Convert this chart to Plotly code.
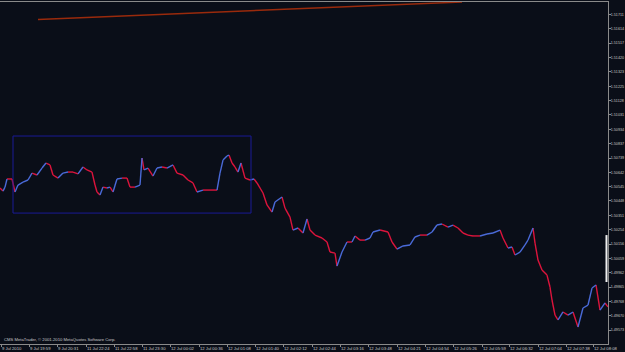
import plotly.graph_objects as go

# ---- data (bar index ~ time position, close price) ----
bars = [0, 3, 5, 7, 12, 15, 18, 23, 28, 32, 37, 42, 46, 50, 53, 58, 63, 68, 73, 78,
        83, 87, 92, 95, 97, 100, 103, 107, 110, 113, 117, 122, 127, 130, 135, 140, 142, 144,
        148, 153, 157, 162, 167, 173, 177, 183, 188, 193, 197, 203, 210, 217, 220, 223,
        227, 229, 232, 235, 238, 241, 245, 250, 254, 257, 263, 267, 272, 275, 282, 285,
        290, 293, 298, 303, 307, 310, 315, 322, 327, 330, 335, 337, 342, 347, 352, 355,
        360, 365, 370, 373, 380, 388, 392, 397, 403, 410, 415, 420, 427, 432, 437, 442,
        448, 453, 458, 463, 468, 473, 480, 487, 493, 500, 503, 508, 512, 515, 520, 525,
        528, 533, 535, 538, 542, 547, 550, 552, 555, 558, 563, 568, 573, 578, 583, 588,
        592, 596, 600, 605, 608]
prices = [1.50536, 1.50515, 1.50542, 1.50597, 1.50597, 1.50509, 1.50556, 1.50576, 1.50590, 1.50637,
          1.50624, 1.50671, 1.50705, 1.50692, 1.50624, 1.50603, 1.50637, 1.50644, 1.50644, 1.50631,
          1.50678, 1.50658, 1.50644, 1.50556, 1.50509, 1.50488, 1.50542, 1.50536, 1.50542, 1.50509,
          1.50597, 1.50603, 1.50603, 1.50542, 1.50542, 1.50556, 1.50739, 1.50658,
          1.50671, 1.50617, 1.50671, 1.50678, 1.50671, 1.50692, 1.50637, 1.50624, 1.50590, 1.50570,
          1.50509, 1.50522, 1.50522, 1.50522, 1.50637, 1.50725,
          1.50753, 1.50759, 1.50705, 1.50678, 1.50644, 1.50705, 1.50603, 1.50590, 1.50597, 1.50570,
          1.50502, 1.50421, 1.50373, 1.50441, 1.50475, 1.50400,
          1.50339, 1.50251, 1.50265, 1.50231, 1.50326, 1.50251, 1.50217, 1.50197, 1.50170, 1.50102,
          1.50095, 1.50007, 1.50102, 1.50170, 1.50170, 1.50211,
          1.50183, 1.50183, 1.50197, 1.50238, 1.50251, 1.50238, 1.50170, 1.50122, 1.50143, 1.50150,
          1.50204, 1.50217, 1.50217, 1.50238, 1.50285, 1.50292,
          1.50271, 1.50285, 1.50265, 1.50231, 1.50217, 1.50211, 1.50211, 1.50224, 1.50231, 1.50251,
          1.50197, 1.50129, 1.50136, 1.50082, 1.50102, 1.50150,
          1.50183, 1.50265, 1.50163, 1.50048, 1.49980, 1.49946, 1.49865, 1.49777, 1.49675, 1.49642,
          1.49696, 1.49675, 1.49696, 1.49594, 1.49723, 1.49743,
          1.49858, 1.49879, 1.49709, 1.49757, 1.49730]

# price scale labels
price_ticks = ["1.51711", "1.51614", "1.51517", "1.51420", "1.51323", "1.51225", "1.51128",
               "1.51031", "1.50934", "1.50837", "1.50739", "1.50642", "1.50545", "1.50448",
               "1.50351", "1.50254", "1.50156", "1.50059", "1.49962", "1.49865", "1.49768",
               "1.49670", "1.49573", "1.49476"]
# time scale labels and their bar positions
time_labels = ["9 Jul 2010", "9 Jul 19:59", "9 Jul 20:31", "11 Jul 22:24", "11 Jul 22:58",
               "11 Jul 23:30", "12 Jul 00:02", "12 Jul 00:36", "12 Jul 01:08", "12 Jul 01:40",
               "12 Jul 02:12", "12 Jul 02:44", "12 Jul 03:16", "12 Jul 03:48", "12 Jul 04:21",
               "12 Jul 04:54", "12 Jul 05:26", "12 Jul 05:59", "12 Jul 06:32", "12 Jul 07:04",
               "12 Jul 07:38", "12 Jul 08:08"]
time_bars = [1, 29, 57, 86, 114, 142, 170, 199, 227, 255, 283, 312, 340, 368, 397, 425,
             453, 482, 509, 538, 566, 593]

# objects drawn on chart
trend_bars = [38, 462]
trend_prices = [1.51677, 1.51796]
rect_bars = [13, 251]
rect_prices = [1.50366, 1.50888]
marker_bars = [605.5, 607.5]
marker_prices = [1.49899, 1.50217]

BG = "#0a0e18"
RED = "#dc143c"
BLUE = "#4a6ad8"
GRID = "#8a8a8a"
TXT = "#c8c8c8"
FONT = "Liberation Sans"

up_x, up_y, dn_x, dn_y = [], [], [], []
for i in range(1, len(bars)):
    seg_x = [bars[i - 1], bars[i], None]
    seg_y = [prices[i - 1], prices[i], None]
    if prices[i] > prices[i - 1]:
        up_x += seg_x
        up_y += seg_y
    else:
        dn_x += seg_x
        dn_y += seg_y

fig = go.Figure()
fig.add_trace(go.Scatter(x=dn_x, y=dn_y, mode="lines", line=dict(color=RED, width=1.4),
                         hoverinfo="skip", showlegend=False, connectgaps=False))
fig.add_trace(go.Scatter(x=up_x, y=up_y, mode="lines", line=dict(color=BLUE, width=1.4),
                         hoverinfo="skip", showlegend=False, connectgaps=False))
fig.add_trace(go.Scatter(x=trend_bars, y=trend_prices, mode="lines",
                         line=dict(color="#9a2a0c", width=1.5), hoverinfo="skip", showlegend=False))

fig.add_shape(type="rect", x0=rect_bars[0], x1=rect_bars[1], y0=rect_prices[0], y1=rect_prices[1],
              xref="x", yref="y", line=dict(color="#1a1a96", width=1), fillcolor="rgba(0,0,0,0)")
fig.add_shape(type="rect", x0=marker_bars[0], x1=marker_bars[1], y0=marker_prices[0],
              y1=marker_prices[1], xref="x", yref="y", line=dict(width=0), fillcolor="#f0f0f0")

fig.add_annotation(text="CMS MetaTrader, © 2001-2010 MetaQuotes Software Corp.",
                   xref="paper", yref="paper", x=0.003, y=0.0, xanchor="left", yanchor="bottom",
                   yshift=0, showarrow=False, font=dict(size=4.2, color=TXT, family=FONT))

fig.update_layout(
    width=625, height=352,
    margin=dict(l=0, r=17, t=2, b=8, autoexpand=False),
    paper_bgcolor=BG, plot_bgcolor=BG,
    showlegend=False,
    xaxis=dict(range=[0, 608], showgrid=False, zeroline=False, automargin=False,
               showline=True, linecolor=GRID, linewidth=1, mirror=True,
               tickmode="array", tickvals=time_bars, ticktext=time_labels, tickangle=0,
               ticks="outside", ticklen=2, tickcolor=GRID,
               ticklabelposition="outside right",
               tickfont=dict(size=4.2, color=TXT, family=FONT)),
    yaxis=dict(range=[1.49479, 1.51796], side="right", showgrid=False, zeroline=False,
               automargin=False,
               showline=True, linecolor=GRID, linewidth=1, mirror=True,
               tickmode="array", tickvals=[float(t) for t in price_ticks], ticktext=price_ticks,
               ticks="outside", ticklen=2, tickcolor=GRID, ticklabelstandoff=-1,
               tickfont=dict(size=3.7, color=TXT, family=FONT)),
)

fig.write_html("out.html")
